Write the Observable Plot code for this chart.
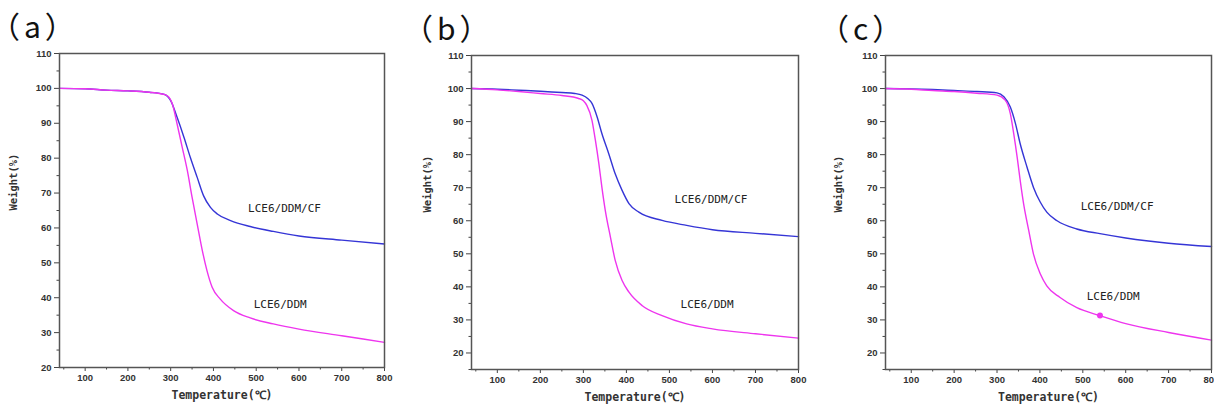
<!DOCTYPE html>
<html><head><meta charset="utf-8">
<script src="https://cdn.jsdelivr.net/npm/d3@7"></script>
<script src="https://cdn.jsdelivr.net/npm/@observablehq/plot@0.6"></script>
<style>
html,body{margin:0;padding:0;background:#fff;overflow:hidden;width:1214px;height:408px;position:relative;}
.panel{position:absolute;top:0;width:410px;height:408px;}
.tag{position:absolute;font-family:"Noto Sans CJK SC","Noto Sans",sans-serif;font-size:30px;line-height:30px;color:#111;white-space:nowrap;font-feature-settings:"palt" 1;letter-spacing:5px;}
</style></head><body>
<script>
// ---- data ----
const panelTags = ["（a）", "（b）", "（c）"];
const seriesNames = ["LCE6/DDM/CF", "LCE6/DDM"];
const xTicks = [100, 200, 300, 400, 500, 600, 700, 800];
const xMinorTicks = [50, 150, 250, 350, 450, 550, 650, 750];
const yTicksA = [20, 30, 40, 50, 60, 70, 80, 90, 100, 110];
const yMinorA = [25, 35, 45, 55, 65, 75, 85, 95, 105];
const yTicksBC = [20, 30, 40, 50, 60, 70, 80, 90, 100, 110];
const yMinorBC = [15, 25, 35, 45, 55, 65, 75, 85, 95, 105];

// panel (a)
const tA_CF = [40, 100, 150, 200, 250, 285, 300, 315, 331, 346, 362, 377, 393, 409, 440, 486, 540, 600, 700, 800];
const wA_CF = [100, 99.9, 99.5, 99.3, 98.9, 98.3, 96.5, 91.7, 86.0, 80.2, 74.5, 69.2, 65.9, 64.0, 62.1, 60.4, 59.0, 57.7, 56.5, 55.4];
const tA_DDM = [40, 100, 150, 200, 250, 280, 292, 304, 315, 327, 339, 350, 362, 374, 385, 397, 416, 447, 486, 540, 600, 700, 800];
const wA_DDM = [100, 99.9, 99.5, 99.3, 98.9, 98.4, 97.9, 95.5, 89.8, 83.1, 76.4, 68.8, 61.1, 53.5, 47.7, 43.0, 39.6, 36.3, 34.2, 32.5, 31.0, 29.1, 27.2];

// panel (b)
const tB_CF = [40, 100, 150, 200, 250, 280, 297, 310, 320, 332, 343, 359, 374, 390, 406, 429, 483, 540, 600, 700, 800];
const wB_CF = [100, 99.8, 99.5, 99.2, 98.8, 98.5, 98.0, 97.0, 95.5, 91.4, 86.4, 80.3, 74.2, 69.2, 65.2, 62.6, 60.1, 58.6, 57.3, 56.2, 55.2];
const tB_DDM = [40, 100, 150, 200, 250, 289, 300, 308, 320, 328, 336, 343, 351, 363, 374, 390, 406, 437, 483, 540, 600, 700, 800];
const wB_DDM = [100, 99.6, 99.1, 98.5, 97.9, 97.0, 96.3, 94.9, 90.4, 84.3, 77.3, 70.2, 63.1, 55.0, 48.0, 41.9, 38.4, 34.3, 31.3, 28.8, 27.3, 25.8, 24.5];

// panel (c)
const tC_CF = [40, 100, 150, 200, 253, 300, 316, 331, 343, 354, 370, 385, 401, 416, 440, 486, 540, 600, 700, 800];
const wC_CF = [100, 99.9, 99.7, 99.4, 99.1, 98.7, 97.5, 94.4, 89.4, 83.3, 76.2, 70.1, 65.6, 62.6, 60.0, 57.5, 56.1, 54.8, 53.2, 52.2];
const tC_DDM = [40, 100, 150, 200, 253, 300, 319, 331, 339, 347, 354, 362, 374, 385, 401, 416, 447, 486, 540, 600, 700, 800];
const wC_DDM = [100, 99.8, 99.4, 99.1, 98.6, 98.0, 96.5, 92.4, 86.3, 79.2, 72.2, 65.1, 57.0, 49.9, 43.9, 40.3, 36.8, 33.7, 31.3, 28.9, 26.2, 23.9];
const markerC_T = [540];
const markerC_W = [31.3];

// in-plot label anchors (data coordinates)
const labelT_A = [481, 494], labelW_A = [65.5, 38.1];
const labelT_B = [512, 526], labelW_B = [66.4, 34.8];
const labelT_C = [495, 509], labelW_C = [64.3, 37.0];

// ---- styling / layout ----
const colorCF = "#3535d6";
const colorDDM = "#ee35ee";
const rows = (t, w) => t.map((v, i) => ({T: v, W: w[i]}));

const panels = [
  {tag: panelTags[0], left: 0, tagLeft: 4, tagTop: 10, ml: 59, mr: 26, mt: 53, mb: 41, yDomain: [20, 110], yTicks: yTicksA, yMinor: yMinorA,
   cf: rows(tA_CF, wA_CF), ddm: rows(tA_DDM, wA_DDM), labT: labelT_A, labW: labelW_A, ytitleDx: -46, marker: []},
  {tag: panelTags[1], left: 410, tagLeft: 417, tagTop: 12, ml: 61, mr: 22, mt: 55, mb: 39, yDomain: [15, 110], yTicks: yTicksBC, yMinor: yMinorBC,
   cf: rows(tB_CF, wB_CF), ddm: rows(tB_DDM, wB_DDM), labT: labelT_B, labW: labelW_B, ytitleDx: -44, marker: []},
  {tag: panelTags[2], left: 820, tagLeft: 833, tagTop: 12, ml: 65, mr: 19, mt: 55, mb: 39, yDomain: [15, 110], yTicks: yTicksBC, yMinor: yMinorBC,
   cf: rows(tC_CF, wC_CF), ddm: rows(tC_DDM, wC_DDM), labT: labelT_C, labW: labelW_C, ytitleDx: -47, marker: rows(markerC_T, markerC_W)}
];

const tickFont = {fontFamily: "'Liberation Sans', Arial, sans-serif", fontSize: 9.5, fontWeight: "bold"};
const monoFont = "'DejaVu Sans Mono', 'Liberation Mono', monospace";

for (const p of panels) {
  const labels = seriesNames.map((s, i) => ({T: p.labT[i], W: p.labW[i], s}));
  const chart = Plot.plot({
    width: 410, height: 408,
    marginLeft: p.ml, marginRight: p.mr, marginTop: p.mt, marginBottom: p.mb,
    x: {domain: [40, 800]},
    y: {domain: p.yDomain},
    style: {background: "transparent", overflow: "visible"},
    marks: [
      Plot.axisX(xMinorTicks, {tickSize: 2.5, text: null, stroke: "#444", strokeWidth: 1, label: null}),
      Plot.axisX(xTicks, {tickSize: 4, tickPadding: 3, stroke: "#444", fill: "#333", strokeWidth: 1, label: null, ...tickFont}),
      Plot.axisY(p.yMinor, {tickSize: 2.5, text: null, stroke: "#444", strokeWidth: 1, label: null}),
      Plot.axisY(p.yTicks, {tickSize: 5, tickPadding: 3, stroke: "#444", fill: "#333", strokeWidth: 1, label: null, ...tickFont}),
      Plot.line(p.cf, {x: "T", y: "W", stroke: colorCF, strokeWidth: 1.4, curve: "monotone-x"}),
      Plot.line(p.ddm, {x: "T", y: "W", stroke: colorDDM, strokeWidth: 1.4, curve: "monotone-x"}),
      Plot.dot(p.marker, {x: "T", y: "W", r: 3, fill: colorDDM, stroke: "none"}),
      Plot.text(labels, {x: "T", y: "W", text: "s", textAnchor: "start", fontFamily: monoFont, fontSize: 11, fill: "#222"}),
      Plot.frame({stroke: "#555", strokeWidth: 1.5}),
      Plot.text(["Weight(%)"], {frameAnchor: "left", dx: p.ytitleDx, rotate: -90, fontFamily: monoFont, fontSize: 10.5, fontWeight: "bold", fill: "#333"}),
      Plot.text(["Temperature(℃)"], {frameAnchor: "bottom", dy: 31, fontFamily: monoFont, fontSize: 11.5, fontWeight: "bold", fill: "#333"})
    ]
  });
  const div = document.createElement("div");
  div.className = "panel";
  div.style.left = p.left + "px";
  div.appendChild(chart);
  document.body.appendChild(div);
  const tag = document.createElement("div");
  tag.className = "tag";
  tag.style.left = p.tagLeft + "px";
  tag.style.top = p.tagTop + "px";
  tag.textContent = p.tag;
  document.body.appendChild(tag);
}
</script>
</body></html>
